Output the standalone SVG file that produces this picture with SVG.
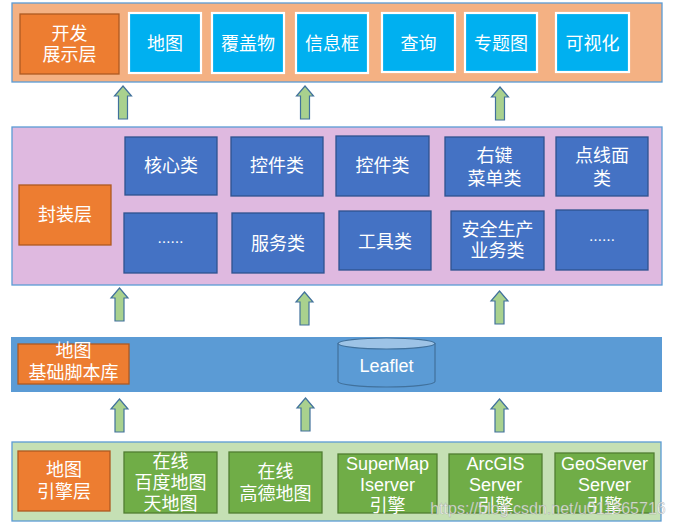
<svg xmlns="http://www.w3.org/2000/svg" width="676" height="527" viewBox="0 0 676 527">
<defs>
<style>
.band{stroke:#5B9BD5;stroke-width:1.3}
.orange{fill:#ED7D31;stroke:#AE5A21;stroke-width:1.3}
.cyan{fill:#00B0F0;stroke:#FFFFFF;stroke-width:2.2}
.blue{fill:#4472C4;stroke:#2F528F;stroke-width:1.3}
.green{fill:#70AD47;stroke:#507E32;stroke-width:1.3}
.arrow{fill:#A9D18E;stroke:#41719C;stroke-width:1.2;stroke-linejoin:miter}
text{fill:#FFFFFF;font-size:18px;text-anchor:middle}
.cjk{font-family:"Noto Sans CJK SC","Noto Sans",sans-serif}
.lat{font-family:"Liberation Sans","Noto Sans CJK SC",sans-serif}
</style>
<path id="arr" d="M0,0 L8.5,10 L4.5,10 L4.5,33 L-4.5,33 L-4.5,10 L-8.5,10 Z"/>
</defs>

<!-- bands -->
<rect id="band-top" class="band" x="12" y="3" width="650" height="79" fill="#F4B183"/>
<rect id="band-pack" class="band" x="12" y="127" width="650" height="158" fill="#DFB9E0"/>
<rect id="band-lib" x="11" y="337" width="651" height="55" fill="#5B9BD5"/>
<rect id="band-engine" class="band" x="12" y="442" width="649" height="79" fill="#C5E0B4"/>

<!-- top layer -->
<g id="n-dev"><rect class="orange" x="20" y="14" width="99" height="60"/><text class="cjk" x="69.5" y="40">开发</text><text class="cjk" x="69.5" y="61">展示层</text></g>
<g id="n-map"><rect class="cyan" x="129" y="13" width="72" height="60"/><text class="cjk" x="165" y="50">地图</text></g>
<g id="n-overlay"><rect class="cyan" x="212" y="13" width="72" height="60"/><text class="cjk" x="248" y="50">覆盖物</text></g>
<g id="n-info"><rect class="cyan" x="296" y="13" width="72" height="60"/><text class="cjk" x="332" y="50">信息框</text></g>
<g id="n-query"><rect class="cyan" x="382" y="13" width="73" height="59"/><text class="cjk" x="418.5" y="50">查询</text></g>
<g id="n-thematic"><rect class="cyan" x="465" y="13" width="72" height="59"/><text class="cjk" x="501" y="50">专题图</text></g>
<g id="n-vis"><rect class="cyan" x="556" y="13" width="73" height="59"/><text class="cjk" x="592.5" y="50">可视化</text></g>

<!-- encapsulation layer -->
<g id="n-pack"><rect class="orange" x="19" y="185" width="92" height="60"/><text class="cjk" x="65" y="221">封装层</text></g>
<g id="n-core"><rect class="blue" x="125" y="137" width="92" height="58"/><text class="cjk" x="171" y="172">核心类</text></g>
<g id="n-ctrl1"><rect class="blue" x="231" y="137" width="92" height="59"/><text class="cjk" x="277" y="172">控件类</text></g>
<g id="n-ctrl2"><rect class="blue" x="336" y="136" width="93" height="60"/><text class="cjk" x="382.5" y="172">控件类</text></g>
<g id="n-menu"><rect class="blue" x="445" y="137" width="99" height="59"/><text class="cjk" x="494.5" y="162">右键</text><text class="cjk" x="494.5" y="185">菜单类</text></g>
<g id="n-geom"><rect class="blue" x="556" y="137" width="92" height="59"/><text class="cjk" x="602" y="162">点线面</text><text class="cjk" x="602" y="185">类</text></g>
<g id="n-more1"><rect class="blue" x="124" y="213" width="93" height="60"/><text class="cjk" x="170.5" y="247" style="font-size:13px">……</text></g>
<g id="n-service"><rect class="blue" x="232" y="213" width="92" height="60"/><text class="cjk" x="278" y="250">服务类</text></g>
<g id="n-tool"><rect class="blue" x="339" y="211" width="92" height="59"/><text class="cjk" x="385" y="248">工具类</text></g>
<g id="n-safety"><rect class="blue" x="451" y="211" width="93" height="59"/><text class="cjk" x="497.5" y="236">安全生产</text><text class="cjk" x="497.5" y="257">业务类</text></g>
<g id="n-more2"><rect class="blue" x="556" y="210" width="92" height="60"/><text class="cjk" x="602" y="245" style="font-size:13px">……</text></g>

<!-- base library layer -->
<g id="n-lib"><rect class="orange" x="18" y="344" width="111" height="40"/><text class="cjk" x="73.5" y="357">地图</text><text class="cjk" x="73.5" y="379">基础脚本库</text></g>
<g id="n-leaflet">
<path d="M338,343.5 V381.5 A48.5,5.5 0 0 0 435,381.5 V343.5 Z" fill="#5B9BD5" stroke="#41719C" stroke-width="1.2"/>
<ellipse cx="386.5" cy="343.5" rx="48.5" ry="5.5" fill="#9DC3E6" stroke="#41719C" stroke-width="1.2"/>
<text class="lat" x="386.5" y="372">Leaflet</text>
</g>

<!-- engine layer -->
<g id="n-engine"><rect class="orange" x="18" y="451" width="92" height="60"/><text class="cjk" x="64" y="476">地图</text><text class="cjk" x="64" y="498">引擎层</text></g>
<g id="n-baidu"><rect class="green" x="124" y="452" width="93" height="61"/><text class="cjk" x="170.5" y="468">在线</text><text class="cjk" x="170.5" y="489">百度地图</text><text class="cjk" x="170.5" y="510">天地图</text></g>
<g id="n-gaode"><rect class="green" x="229" y="452" width="93" height="61"/><text class="cjk" x="275.5" y="478">在线</text><text class="cjk" x="275.5" y="500">高德地图</text></g>
<g id="n-supermap"><rect class="green" x="338" y="454" width="99" height="59"/><text class="lat" x="387.5" y="470">SuperMap</text><text class="lat" x="387.5" y="491">Iserver</text><text class="cjk" x="387.5" y="512">引擎</text></g>
<g id="n-arcgis"><rect class="green" x="449" y="454" width="93" height="59"/><text class="lat" x="495.5" y="470">ArcGIS</text><text class="lat" x="495.5" y="491">Server</text><text class="cjk" x="495.5" y="512">引擎</text></g>
<g id="n-geoserver"><rect class="green" x="555" y="453" width="99" height="60"/><text class="lat" x="604.5" y="470">GeoServer</text><text class="lat" x="604.5" y="491">Server</text><text class="cjk" x="604.5" y="512">引擎</text></g>

<!-- connectors -->
<g id="connectors">
<use href="#arr" class="arrow" x="123" y="86"/>
<use href="#arr" class="arrow" x="305" y="86"/>
<use href="#arr" class="arrow" x="500" y="87"/>
<use href="#arr" class="arrow" x="119.5" y="288"/>
<use href="#arr" class="arrow" x="304.5" y="292"/>
<use href="#arr" class="arrow" x="499.5" y="291"/>
<use href="#arr" class="arrow" x="119.5" y="399"/>
<use href="#arr" class="arrow" x="305.5" y="398"/>
<use href="#arr" class="arrow" x="499.5" y="399"/>
</g>

<text x="548" y="514" style="font-family:'Liberation Sans',sans-serif;font-size:16px;fill:#FFFFFF;fill-opacity:0.75;stroke:#8C8C8C;stroke-width:0.5;stroke-opacity:0.6">https://blog.csdn.net/u011365716</text>
</svg>
